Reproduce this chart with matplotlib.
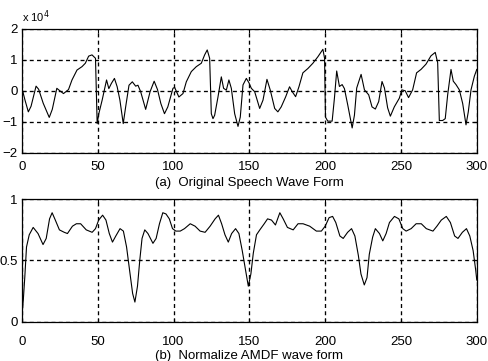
import matplotlib
matplotlib.use("Agg")
import matplotlib.pyplot as plt

# ---- data ----
speech_n = [0, 2, 4.2, 6, 9.3, 11, 14, 18, 20, 23, 25, 27.4, 30.7, 33, 36.3, 39.6, 41.8, 44, 46.2, 48.5,
            49.6, 50.7, 52.9, 55.8, 57.3, 59, 61, 62.8, 64.6, 66.8, 68.4, 70.6, 72.8, 75, 76.5, 78.3,
            81.6, 84.5, 87.2, 89.4, 91.6, 94, 96.2, 99.6, 100.7, 103.5, 106.2, 108.4, 111.7, 115, 118.3,
            120.5, 122.2, 123.8, 124.9, 126, 127.1, 129.3, 131.5, 133, 134.8, 136.5, 138.1, 140.3, 142.5,
            144, 145.8, 148, 149.7, 151.3, 153.5, 156.8, 159, 161.6, 163.8, 166.7, 168.8, 171, 173.9,
            176.5, 178.3, 180.5, 182.7, 185.3, 188.6, 191.9, 195.2, 198.5, 199.6, 200.2, 201.7, 204.6,
            206.1, 207.6, 209.4, 211.2, 212.7, 214.9, 217.8, 219.3, 220.8, 223.7, 225.9, 228.7, 230.9,
            233.1, 235.3, 237.5, 239.1, 241.2, 243, 245.6, 248.9, 250.6, 252.8, 255, 257.7, 260.3, 263.2,
            266.5, 269.8, 272.6, 274.2, 275.3, 277.5, 279.2, 280.8, 283, 284.5, 286.3, 288.5, 290.7,
            292.9, 294.4, 296.2, 298.4, 300]
speech_amp_1e4 = [0.08, -0.3, -0.68, -0.5, 0.15, 0.05, -0.4, -0.86, -0.6, 0.08, 0.0, -0.09, 0.04, 0.35, 0.67,
                  0.78, 0.89, 1.12, 1.16, 1.05,
                  -1.06, -0.74, -0.3, 0.35, 0.07, 0.24, 0.4, 0.13, -0.3, -1.06, -0.52, 0.18, 0.29, 0.15, 0.18,
                  -0.03, -0.6, -0.03, 0.31, 0.04, -0.41, -0.74, -0.52, 0.08, 0.11, -0.2, -0.09, 0.29, 0.62,
                  0.78, 0.89, 1.16, 1.32, 1.05, -0.74, -0.9, -0.79, -0.2, 0.45, 0.08, 0.02, 0.35, 0.08, -0.74,
                  -1.15, -0.85, 0.19, 0.4, 0.26, 0.08, -0.03, -0.57, -0.3, 0.37, 0.02, -0.57, -0.68, -0.52,
                  -0.2, 0.13, -0.03, -0.19, 0.13, 0.58, 0.72, 0.89, 1.1, 1.34, 1.05, -0.85, -0.98, -0.98,
                  -0.24, 0.64, 0.14, 0.2, 0.07, -0.46, -1.2, -0.79, 0.09, 0.53, 0.03, -0.13, -0.52, -0.59,
                  -0.35, 0.3, 0.09, -0.55, -0.82, -0.52, -0.24, 0.03, 0.0, -0.22, 0.03, 0.58, 0.69, 0.86,
                  1.13, 1.24, 0.91, -0.96, -0.96, -0.9, -0.13, 0.69, 0.31, 0.2, 0.03, -0.41, -1.1, -0.68,
                  0.03, 0.47, 0.69]

amdf_lag = [0, 0.9, 1.9, 3, 4.8, 7.4, 10.6, 13.9, 16, 18.2, 19.9, 22, 24.7, 27.9, 30, 33.3, 35.9, 38.7, 42.4,
            46.3, 48.5, 50.6, 53.2, 55.4, 57.6, 59.7, 61.9, 64.7, 66.9, 69, 71.2, 73, 74.5, 76.2, 77.7,
            79.2, 81, 83.1, 86.4, 88.5, 90.7, 92.9, 95, 97.2, 99.3, 101.5, 104.4, 107.2, 111, 114.2,
            117.5, 120.8, 124.1, 127.4, 129.6, 131.7, 133.9, 136.1, 138.3, 140.9, 143.1, 145.3, 147.5,
            149.3, 151, 152.6, 154.7, 156.9, 159.8, 162, 164.6, 167.2, 170.1, 172.3, 175.1, 178.9, 182.1,
            185.4, 189.8, 194.2, 197.5, 200, 202.6, 204.9, 207, 209.7, 211.9, 214.8, 217.4, 219.6, 221.9,
            223.6, 225.8, 227.6, 229.1, 231.3, 233.1, 235.8, 238, 240.2, 242.4, 245.7, 248.6, 251.2,
            253.4, 256.7, 260, 263.4, 266.7, 271.1, 273.7, 276.6, 279.9, 282.6, 285.4, 287.6, 290.5,
            293.2, 295.4, 297.6, 299.3, 300]
amdf_val = [0.05, 0.18, 0.37, 0.61, 0.71, 0.77, 0.72, 0.63, 0.68, 0.84, 0.89, 0.83, 0.75, 0.73, 0.72, 0.78,
            0.8, 0.8, 0.75, 0.73, 0.76, 0.83, 0.87, 0.83, 0.72, 0.65, 0.70, 0.76, 0.74, 0.61, 0.4, 0.23,
            0.16, 0.29, 0.5, 0.68, 0.75, 0.72, 0.64, 0.68, 0.8, 0.89, 0.88, 0.84, 0.76, 0.74, 0.74, 0.76,
            0.8, 0.78, 0.74, 0.73, 0.78, 0.84, 0.87, 0.8, 0.71, 0.65, 0.72, 0.76, 0.72, 0.58, 0.42, 0.29,
            0.39, 0.56, 0.71, 0.75, 0.8, 0.84, 0.83, 0.79, 0.89, 0.84, 0.77, 0.75, 0.8, 0.8, 0.78, 0.74,
            0.74, 0.78, 0.85, 0.86, 0.81, 0.7, 0.68, 0.73, 0.76, 0.70, 0.54, 0.39, 0.3, 0.36, 0.55, 0.69,
            0.76, 0.72, 0.66, 0.72, 0.81, 0.86, 0.84, 0.76, 0.74, 0.76, 0.8, 0.8, 0.76, 0.74, 0.78, 0.83,
            0.86, 0.81, 0.7, 0.68, 0.73, 0.76, 0.7, 0.58, 0.42, 0.34]

x_ticks = [0, 50, 100, 150, 200, 250, 300]
top_yticks = [-2, -1, 0, 1, 2]
bot_yticks = [0, 0.5, 1]
bot_yticklabels = ["0", "0.5", "1"]
label_a = "(a)  Original Speech Wave Form"
label_b = "(b)  Normalize AMDF wave form"
exp_text = r"x 10$^4$"

plt.rcParams['font.family'] = ['Liberation Sans', 'DejaVu Sans']
plt.rcParams['font.size'] = 9

fig = plt.figure(figsize=(4.88, 3.61), dpi=100)
ax1 = fig.add_axes([0.045, 0.577, 0.932, 0.343])
ax2 = fig.add_axes([0.045, 0.109, 0.932, 0.339])

grid_kw = dict(color='black', linestyle=(0, (3, 2.5)), linewidth=0.95)

for ax in (ax1, ax2):
    ax.set_xlim(0, 300)
    ax.set_xticks(x_ticks)
    ax.grid(True, **grid_kw)
    ax.tick_params(direction='in', length=3, width=0.8, pad=3, labelsize=9.5, top=True, right=True)
    for s in ax.spines.values():
        s.set_linewidth(0.9)
        s.set_color('black')

ax1.tick_params(axis='x', pad=6)
ax2.tick_params(axis='x', pad=10)

ax1.plot(speech_n, speech_amp_1e4, color='black', linewidth=0.8)
ax1.set_ylim(-2, 2)
ax1.set_yticks(top_yticks)
ax1.set_xlabel(label_a, fontsize=9.5, labelpad=3)
ax1.text(0.0, 1.03, exp_text, transform=ax1.transAxes, fontsize=8, ha='left', va='bottom')

ax2.plot(amdf_lag, amdf_val, color='black', linewidth=0.8)
ax2.set_ylim(0, 1)
ax2.set_yticks(bot_yticks)
ax2.set_yticklabels(bot_yticklabels)
ax2.set_xlabel(label_b, fontsize=9.5, labelpad=2)

fig.savefig("out.png", dpi=100)
